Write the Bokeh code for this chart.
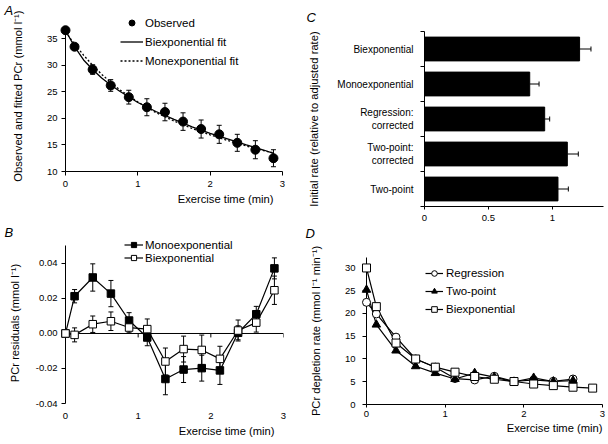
import numpy as np
from bokeh.plotting import figure
from bokeh.models import (Range1d, LinearAxis, FixedTicker, Whisker, TeeHead, ColumnDataSource,
                          Legend, LegendItem, Title, Span, NumeralTickFormatter,
                          CustomJSTickFormatter)
from bokeh.layouts import row, column
from bokeh.embed import file_html
from bokeh.resources import INLINE

FONT = "Liberation Sans"

# ---------------- Panel A: observed and fitted PCr ----------------
t_obs = [0, 0.125, 0.375, 0.625, 0.875, 1.125, 1.375, 1.625, 1.875, 2.125, 2.375, 2.625, 2.875]
pcr_obs = [36.6, 33.5, 29.2, 26.2, 24.0, 22.1, 21.2, 19.4, 18.0, 17.0, 15.4, 14.1, 12.5]
pcr_err = [0.0, 0.0, 0.9, 1.1, 1.3, 1.6, 1.65, 1.65, 1.7, 1.7, 1.6, 1.7, 1.6]
t_fit = [0, 0.125, 0.25, 0.375, 0.5, 0.625, 0.75, 1.0, 1.25, 1.5, 1.75, 2.0, 2.25, 2.5, 2.75, 2.875]
biexp_fit = [36.6, 33.5, 31.0, 29.2, 27.6, 26.3, 25.1, 23.0, 21.3, 19.8, 18.4, 17.2, 16.1, 15.0, 14.0, 13.4]
monoexp_fit = [36.3, 34.0, 31.9, 30.0, 28.3, 26.8, 25.4, 23.1, 21.1, 19.5, 18.1, 16.9, 15.8, 14.8, 13.9, 13.5]
a_yticks = [10, 15, 20, 25, 30, 35]
time_ticks = [0, 1, 2, 3]

# ---------------- Panel B: residuals ----------------
t_res = [0, 0.125, 0.375, 0.625, 0.875, 1.125, 1.375, 1.625, 1.875, 2.125, 2.375, 2.625, 2.875]
mono_res = [0.0, 0.0213, 0.032, 0.0228, 0.0074, -0.0023, -0.026, -0.0206, -0.0198, -0.0211, 0.0004, 0.011, 0.0372]
mono_err = [0.0, 0.0038, 0.0078, 0.0075, 0.0045, 0.0047, 0.009, 0.0074, 0.0074, 0.008, 0.004, 0.0045, 0.006]
bi_res = [0.0, -0.0008, 0.0053, 0.007, 0.0034, 0.0025, -0.016, -0.0089, -0.0094, -0.0145, 0.0017, 0.0062, 0.0247]
bi_err = [0.0, 0.004, 0.0047, 0.0053, 0.003, 0.0058, 0.0077, 0.0074, 0.0085, 0.0072, 0.006, 0.0054, 0.0081]
b_yticks = [-0.04, -0.02, 0.0, 0.02, 0.04]

# ---------------- Panel C: initial rates ----------------
methods = ["Biexponential", "Monoexponential", "Regression:\ncorrected", "Two-point:\ncorrected", "Two-point"]
rate = [1.213, 0.823, 0.940, 1.117, 1.044]
rate_err = [0.089, 0.073, 0.039, 0.086, 0.081]
c_xticks = [0, 0.5, 1]

# ---------------- Panel D: depletion rates ----------------
t_d = [0, 0.125, 0.375, 0.625, 0.875, 1.125, 1.375, 1.625, 1.875, 2.125, 2.375, 2.625]
regression = [22.45, 19.9, 14.8, 10.0, 8.2, 5.7, 5.4, 6.2, 5.05, 5.4, 5.1, 5.6]
two_point = [25.2, 17.55, 11.85, 8.4, 6.9, 5.6, 6.9, 6.0, 5.0, 5.85, 5.05, 5.25]
t_d_bi = [0, 0.125, 0.375, 0.625, 0.875, 1.125, 1.375, 1.625, 1.875, 2.125, 2.375, 2.625, 2.875]
biexp_rate = [30.0, 21.5, 13.5, 10.0, 8.2, 7.1, 6.15, 5.55, 5.05, 4.5, 4.15, 3.8, 3.6]
d_yticks = [0, 5, 10, 15, 20, 25, 30]


def letter_props():
    return dict(text_font=FONT, text_font_size="13px", text_font_style="italic", text_color="black")


def make_fig(w, h, xr, yr, mbl, mbr, mbt, mbb, letter=None, letter_offset=0, letter_standoff=0):
    p = figure(width=w, height=h, x_range=Range1d(*xr), y_range=Range1d(*yr),
               output_backend="svg", toolbar_location=None,
               x_axis_location=None, y_axis_location=None,
               min_border_left=mbl, min_border_right=mbr,
               min_border_top=mbt, min_border_bottom=mbb)
    try:
        p.frame_align = False
    except Exception:
        pass
    p.outline_line_color = None
    p.xgrid.visible = False
    p.ygrid.visible = False
    p.background_fill_color = "white"
    p.border_fill_color = "white"
    if letter:
        p.title.text = letter
        p.title.align = "left"
        p.title.offset = letter_offset
        p.title.standoff = letter_standoff
        for k, v in letter_props().items():
            setattr(p.title, k, v)
    else:
        p.title.visible = False
    return p


def style_axis(ax, label_size="9.5px"):
    ax.axis_line_color = "black"
    ax.axis_line_width = 1
    ax.major_tick_line_color = "black"
    ax.major_tick_in = 0
    ax.major_tick_out = 4
    ax.minor_tick_line_color = None
    ax.major_label_text_font = FONT
    ax.major_label_text_font_size = label_size
    ax.major_label_text_color = "black"
    ax.axis_label_text_font = FONT
    ax.axis_label_text_font_size = "11.2px"
    ax.axis_label_text_font_style = "normal"
    ax.axis_label_text_color = "black"
    return ax


def x_title(p, text, offset, standoff):
    p.add_layout(Title(text=text, align="right", offset=offset, standoff=standoff,
                       text_font=FONT, text_font_size="11.2px", text_font_style="normal",
                       text_color="black"), "below")


def make_legend(p, items, loc, gw, gh, lh, spacing, standoff):
    leg = Legend(items=items, location=loc, glyph_width=gw, glyph_height=gh,
                 label_height=lh, label_width=10, spacing=spacing, label_standoff=standoff,
                 padding=0, margin=0, border_line_color=None, background_fill_alpha=0,
                 label_text_font=FONT, label_text_font_size="11.5px", label_text_color="black")
    p.add_layout(leg, "center")


def whiskers(p, base, val, err, dimension="height", both=True, size=5):
    b, lo, hi = [], [], []
    for bi_, v, e in zip(base, val, err):
        if e > 0:
            b.append(bi_)
            lo.append(v - e if both else v)
            hi.append(v + e)
    src = ColumnDataSource(dict(base=b, lower=lo, upper=hi))
    w = Whisker(base="base", lower="lower", upper="upper", source=src, dimension=dimension,
                line_color="black", line_width=1, level="underlay",
                upper_head=TeeHead(size=size, line_color="black", line_width=1),
                lower_head=TeeHead(size=size, line_color="black", line_width=1) if both else None)
    p.add_layout(w)


# ================= Panel A =================
pA = make_fig(300, 222, (0, 3.0), (10, 39.0), 65, 18, 15, 51, "A", -61)
yA = style_axis(LinearAxis(ticker=FixedTicker(ticks=a_yticks), bounds=(10, 36.5),
                           axis_label="Observed and fitted PCr  (mmol l\u207b\u00b9)",
                           major_label_standoff=4, axis_label_standoff=20))
xA = style_axis(LinearAxis(ticker=FixedTicker(ticks=time_ticks), bounds=(0, 3), major_label_standoff=5))
pA.add_layout(xA, "below")
pA.add_layout(yA, "left")
x_title(pA, "Exercise time (min)", 9, 2)
lb = pA.line(t_fit, biexp_fit, line_color="black", line_width=1.3)
lm = pA.line(t_fit, monoexp_fit, line_color="black", line_width=1.3, line_dash="2 2")
whiskers(pA, t_obs, pcr_obs, pcr_err, size=5)
so = pA.scatter(t_obs, pcr_obs, marker="circle", size=9, fill_color="black", line_color="black",
                level="overlay")
make_legend(pA, [LegendItem(label="Observed", renderers=[so]),
                 LegendItem(label="Biexponential fit", renderers=[lb]),
                 LegendItem(label="Monexponential fit", renderers=[lm])],
            (55, 103), 23, 15, 13, 4, 2)

# ================= Panel B =================
pB = make_fig(300, 222, (0, 3.0), (-0.04, 0.0537), 65, 17, 15, 41, "B", -61)
yB = style_axis(LinearAxis(ticker=FixedTicker(ticks=b_yticks), bounds=(-0.04, 0.05),
                           formatter=NumeralTickFormatter(format="0.00"),
                           axis_label="PCr residuals  (mmol l\u207b\u00b9)",
                           major_label_standoff=4, axis_label_standoff=12))
xB = style_axis(LinearAxis(ticker=FixedTicker(ticks=time_ticks), major_label_standoff=9))
xB.axis_line_color = None
xB.major_tick_line_color = None
xB.major_tick_out = 0
pB.add_layout(xB, "below")
pB.add_layout(yB, "left")
x_title(pB, "Exercise time (min)", 9, 3)
pB.add_layout(Span(location=0, dimension="width", line_color="black", line_width=1))
tick_len_b = 4 / 1771.0
pB.segment(x0=time_ticks, y0=[0] * len(time_ticks), x1=time_ticks,
           y1=[-tick_len_b] * len(time_ticks), line_color="black", line_width=1)
whiskers(pB, t_res, mono_res, mono_err, size=5)
whiskers(pB, t_res, bi_res, bi_err, size=5)
ml = pB.line(t_res, mono_res, line_color="black", line_width=1.2)
ms = pB.scatter(t_res, mono_res, marker="square", size=7.5, fill_color="black", line_color="black",
                level="overlay")
bl = pB.line(t_res, bi_res, line_color="black", line_width=1.2)
bs = pB.scatter(t_res, bi_res, marker="square", size=7.5, fill_color="white", line_color="black",
                line_width=1, level="overlay")
make_legend(pB, [LegendItem(label="Monoexponential", renderers=[ml, ms]),
                 LegendItem(label="Biexponential", renderers=[bl, bs])],
            (59, 139), 19, 13, 13, 0, 2)

# ================= Panel C =================
nC = len(methods)
posC = [nC - 1 - i for i in range(nC)]
pC = make_fig(308, 241, (0, 1.4), (-0.5, nC - 0.5), 124, 5, 29, 35, "C", -118, 14)
xC = style_axis(LinearAxis(ticker=FixedTicker(ticks=c_xticks), major_label_standoff=5,
                           formatter=CustomJSTickFormatter(code="return String(tick)")))
xC.major_tick_out = 3
yC = style_axis(LinearAxis(ticker=FixedTicker(ticks=posC, minor_ticks=[k - 0.5 for k in range(nC + 1)]),
                           axis_label="Initial rate (relative to adjusted rate)",
                           major_label_overrides={pos: lab for pos, lab in zip(posC, methods)},
                           major_label_standoff=7, axis_label_standoff=14))
yC.major_tick_out = 0
yC.major_tick_line_color = None
yC.minor_tick_line_color = "black"
yC.minor_tick_in = 0
yC.minor_tick_out = 4
yC.major_label_text_font_size = "10px"
pC.add_layout(xC, "below")
pC.add_layout(yC, "left")
# letter of panel D sits in the margin just under panel C
pC.add_layout(Title(text="D", align="left", offset=-119, standoff=0, **letter_props()), "below")
pC.hbar(y=posC, right=rate, left=0, height=0.68, fill_color="black", line_color="black")
whiskers(pC, posC, rate, rate_err, dimension="width", both=False, size=5)

# ================= Panel D =================
pD = make_fig(308, 203, (0, 3.0), (0, 32.3), 66, 6, 16, 40)
yD = style_axis(LinearAxis(ticker=FixedTicker(ticks=d_yticks), bounds=(0, 32.3),
                           axis_label="PCr depletion rate (mmol l\u207b\u00b9 min\u207b\u00b9)",
                           major_label_standoff=7, axis_label_standoff=20))
xD = style_axis(LinearAxis(ticker=FixedTicker(ticks=time_ticks), bounds=(0, 3), major_label_standoff=3))
xD.major_tick_out = 3
pD.add_layout(xD, "below")
pD.add_layout(yD, "left")
x_title(pD, "Exercise time (min)", 0, 0)
rl = pD.line(t_d, regression, line_color="black", line_width=1.2)
rs = pD.scatter(t_d, regression, marker="circle", size=8, fill_color="white", line_color="black",
                level="overlay")
tl = pD.line(t_d, two_point, line_color="black", line_width=1.2)
ts = pD.scatter(t_d, two_point, marker="triangle", size=8.5, fill_color="black", line_color="black",
                level="overlay")
bxl = pD.line(t_d_bi, biexp_rate, line_color="black", line_width=1.2)
bxs = pD.scatter(t_d_bi, biexp_rate, marker="square", size=8, fill_color="white", line_color="black",
                 level="overlay")
make_legend(pD, [LegendItem(label="Regression", renderers=[rl, rs]),
                 LegendItem(label="Two-point", renderers=[tl, ts]),
                 LegendItem(label="Biexponential", renderers=[bxl, bxs])],
            (59, 88), 18, 14, 13, 4, 3)

layout = row(column(pA, pB), column(pC, pD))
open("out.html", "w").write(file_html(layout, INLINE))
